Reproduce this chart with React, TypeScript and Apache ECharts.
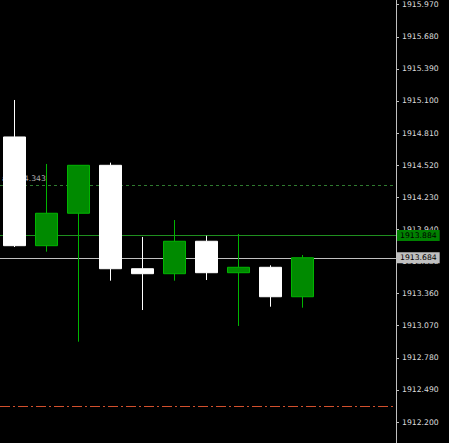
import React, { useEffect, useRef } from "react";
import * as echarts from "echarts";

const opens = [1914.775, 1913.793, 1914.086, 1914.519, 1913.585, 1913.540, 1913.833, 1913.549, 1913.598, 1913.332];
const closes = [1913.793, 1914.086, 1914.519, 1913.585, 1913.540, 1913.833, 1913.549, 1913.598, 1913.332, 1913.684];
const lows = [1913.781, 1913.739, 1912.926, 1913.477, 1913.212, 1913.477, 1913.483, 1913.068, 1913.242, 1913.233];
const highs = [1915.109, 1914.531, 1914.519, 1914.543, 1913.872, 1914.025, 1913.883, 1913.899, 1913.616, 1913.709];

const yTicks = [1912.2, 1912.49, 1912.78, 1913.07, 1913.36, 1913.65, 1913.94, 1914.23, 1914.52, 1914.81, 1915.1, 1915.39, 1915.68, 1915.97];

const orderLevel = 1914.343;
const orderLabel = "a 1914.343";
const greenLevel = 1913.884;
const bidLevel = 1913.684;
const redLevel = 1912.339;

const yMin = 1912.011;
const yMax = 1916.012;
const xMin = -0.453;
const xMax = 11.914;

const FONT = "DejaVu Sans";

export default function App() {
  const ref = useRef<HTMLDivElement>(null);
  useEffect(() => {
    if (!ref.current) return;
    const chart = echarts.init(ref.current, null, { renderer: "svg" });
    const data = opens.map((o, i) => [i, o, closes[i], lows[i], highs[i]]);
    chart.setOption({
      animation: false,
      backgroundColor: "#000000",
      grid: { left: 0, right: 53, top: 0, bottom: 0 },
      xAxis: {
        type: "value",
        min: xMin,
        max: xMax,
        show: false,
        splitLine: { show: false },
      },
      yAxis: {
        type: "value",
        position: "right",
        min: yMin,
        max: yMax,
        scale: true,
        axisLine: { show: true, onZero: false, lineStyle: { color: "#c0c0c0", width: 1 } },
        axisTick: { show: true, customValues: yTicks, length: 3, lineStyle: { color: "#c0c0c0" } },
        axisLabel: {
          customValues: yTicks,
          margin: 6,
          color: "#dcdcdc",
          fontFamily: FONT,
          fontSize: 7.7,
          formatter: (v: number) => v.toFixed(3),
        },
        splitLine: { show: false },
      },
      series: [
        {
          type: "candlestick",
          z: 2,
          clip: false,
          barWidth: 22,
          encode: { x: 0, y: [1, 2, 3, 4] },
          itemStyle: {
            color: "#008a00",
            borderColor: "#00b400",
            color0: "#ffffff",
            borderColor0: "#ffffff",
            borderWidth: 1,
          },
          data,
          markLine: {
            z: 1,
            silent: true,
            symbol: "none",
            precision: 3,
            data: [
              {
                yAxis: orderLevel,
                lineStyle: { color: "#2f7a2f", type: [3, 3], width: 1, opacity: 1 },
                label: {
                  show: true,
                  position: "insideStartTop",
                  distance: [2, 2],
                  formatter: orderLabel,
                  color: "#b0b0b0",
                  fontFamily: FONT,
                  fontSize: 7.7,
                },
              },
              {
                yAxis: greenLevel,
                lineStyle: { color: "#1f8f1f", type: "solid", width: 1, opacity: 1 },
                label: {
                  show: true,
                  position: "end",
                  distance: 1,
                  formatter: greenLevel.toFixed(3),
                  color: "#000000",
                  backgroundColor: "#008000",
                  padding: [2, 3, 1, 3],
                  fontFamily: FONT,
                  fontSize: 7.7,
                },
              },
              {
                yAxis: bidLevel,
                lineStyle: { color: "#c0c0c0", type: "solid", width: 1, opacity: 1 },
                label: {
                  show: true,
                  position: "end",
                  distance: 1,
                  formatter: bidLevel.toFixed(3),
                  color: "#000000",
                  backgroundColor: "#c0c0c0",
                  padding: [2, 3, 1, 3],
                  fontFamily: FONT,
                  fontSize: 7.7,
                },
              },
              {
                yAxis: redLevel,
                lineStyle: { color: "#d2502d", type: [10, 3, 2, 3], width: 1, opacity: 1 },
                label: { show: false },
              },
            ],
          },
        },
      ],
    });
    return () => chart.dispose();
  }, []);
  return <div ref={ref} style={{ width: 449, height: 443, position: "fixed", left: 0, top: 0 }} />;
}
